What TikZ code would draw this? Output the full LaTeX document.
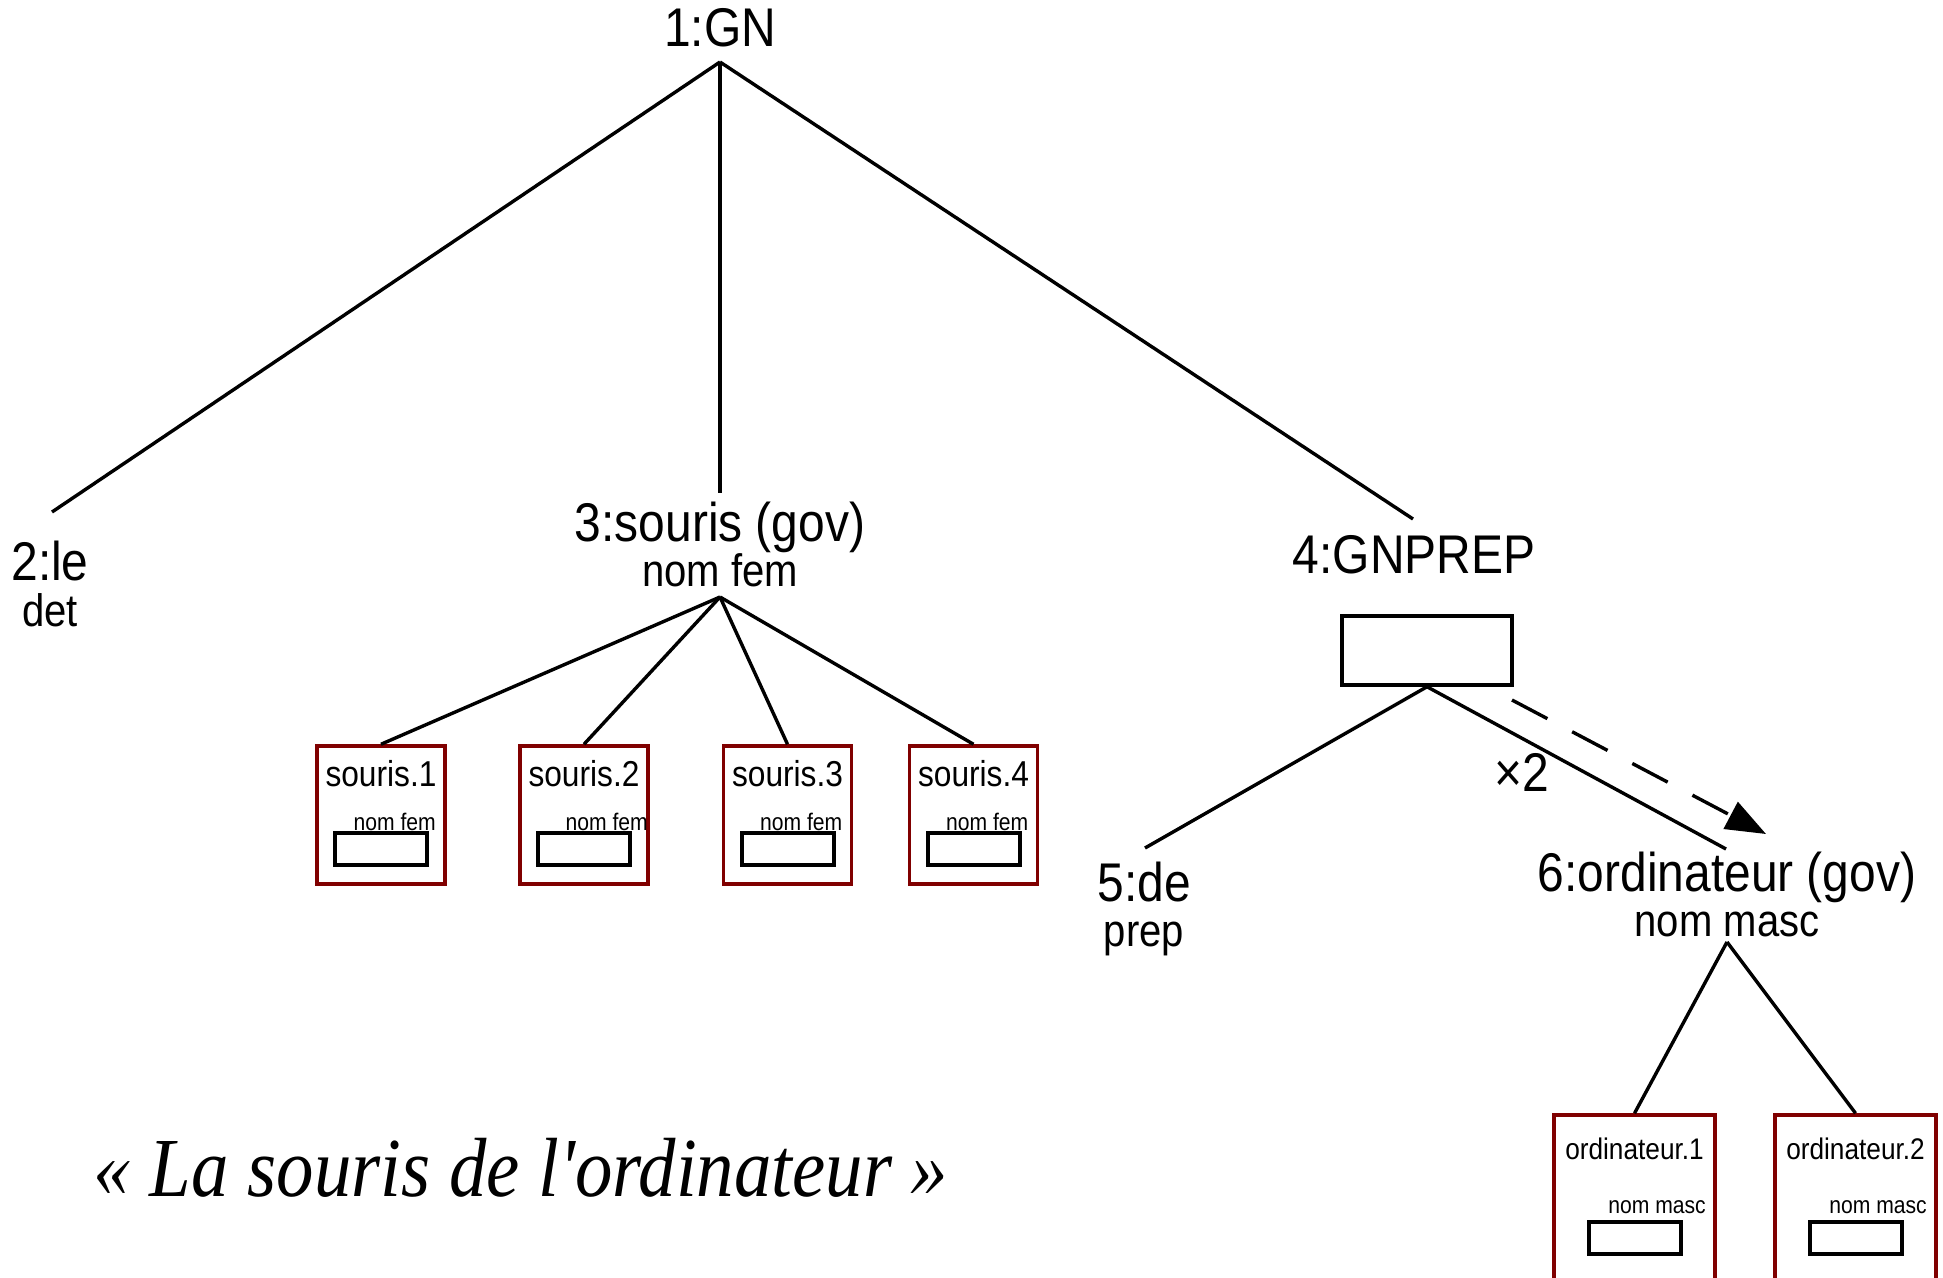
\documentclass[tikz,border=0pt]{standalone}
\usepackage{fontspec}
\setmainfont{Liberation Sans}[FakeStretch=0.88]
\newfontfamily\quotefont{Liberation Serif}[FakeStretch=0.89]
\usetikzlibrary{arrows.meta}
\definecolor{boxred}{RGB}{128,0,0}
\tikzset{
  lbl/.style={inner sep=0pt, anchor=base},
  big/.style={lbl, font=\fontsize{54.5}{60}\selectfont},
  sub/.style={lbl, font=\fontsize{45.5}{50}\selectfont},
  mid/.style={lbl, font=\fontsize{36}{40}\selectfont},
  midsmall/.style={lbl, font=\fontsize{29.8}{34}\selectfont},
  tiny/.style={inner sep=0pt, anchor=base east, font=\fontsize{24}{28}\selectfont},
  edge/.style={line width=3.4pt},
  redbox/.style={draw=boxred, line width=3.5pt, rectangle, inner sep=0pt},
  inbox/.style={draw=black, line width=4pt, rectangle, inner sep=0pt, minimum width=92pt, minimum height=32pt},
}
\begin{document}
\begin{tikzpicture}[x=1pt,y=-1pt]
\clip (0,0) rectangle (1943,1277);
\fill[white] (0,0) rectangle (1943,1277);

% labels
\node[big] (gn) at (720,46) {1:GN};
\node[big] (le) at (50,580) {2:le};
\node[sub] (ledet) at (50,626) {det};
\node[big] (souris) at (720,541) {3:souris (gov)};
\node[sub] (sourissub) at (720,586) {nom fem};
\node[big] (gnprep) at (1414,573) {4:GNPREP};
\node[big] (de) at (1144,901) {5:de};
\node[sub] (prep) at (1144,946) {prep};
\node[big] (ordi) at (1727,891) {6:ordinateur (gov)};
\node[sub] (ordisub) at (1727,936) {nom masc};
\node[big] (times) at (1522,791) {×2};
\node[lbl, font=\quotefont\itshape\fontsize{84}{90}\selectfont] (quote) at (521,1196) {« La souris de l'ordinateur »};

% attachment points
\coordinate (gn-b) at (720,62);
\coordinate (le-t) at (52,512);
\coordinate (souris-t) at (720,493);
\coordinate (gnprep-t) at (1413,519);
\coordinate (souris-b) at (720,597);
\coordinate (de-t) at (1145,848);
\coordinate (ordi-t) at (1726,849);
\coordinate (ordi-b) at (1727,942);
\coordinate (dash-s) at (1512,700);
\coordinate (dash-e) at (1766,834);

% GNPREP box
\node[draw, line width=3.5pt, rectangle, inner sep=0pt, minimum width=170pt, minimum height=69pt] (gnrect) at (1427,650.5) {};

% souris boxes
\foreach \i/\cx/\off in {1/381/9, 2/584/0, 3/787.5/9, 4/973.5/9}{
  \node[redbox, minimum width=128pt, minimum height=138pt] (s\i) at (\cx,815) {};
  \node[inbox] (s\i-in) at (\cx,849) {};
  \node[mid] (s\i-t) at (\cx,786) {souris.\i};
  \node[tiny] (s\i-f) at (\cx+64-\off,830) {nom fem};
}

% ordinateur boxes
\foreach \i/\cx in {1/1634.5, 2/1855.5}{
  \node[redbox, minimum width=161pt, minimum height=200pt] (o\i) at (\cx,1215) {};
  \node[inbox] (o\i-in) at (\cx,1238) {};
  \node[midsmall] (o\i-t) at (\cx,1159) {ordinateur.\i};
  \node[tiny] (o\i-f) at (\cx+71.5,1213) {nom masc};
}

% edges
\draw[edge] (gn-b) -- (le-t);
\draw[edge] (gn-b) -- (souris-t);
\draw[edge] (gn-b) -- (gnprep-t);
\foreach \i in {1,2,3,4}{ \draw[edge] (souris-b) -- (s\i.north); }
\draw[edge] (gnrect.south) -- (de-t);
\draw[edge] (gnrect.south) -- (ordi-t);
\draw[edge] (ordi-b) -- (o1.north);
\draw[edge] (ordi-b) -- (o2.north);
\draw[edge, dash pattern=on 40pt off 28pt, -{Triangle[length=40pt,width=30pt]}] (dash-s) -- (dash-e);
\end{tikzpicture}
\end{document}
